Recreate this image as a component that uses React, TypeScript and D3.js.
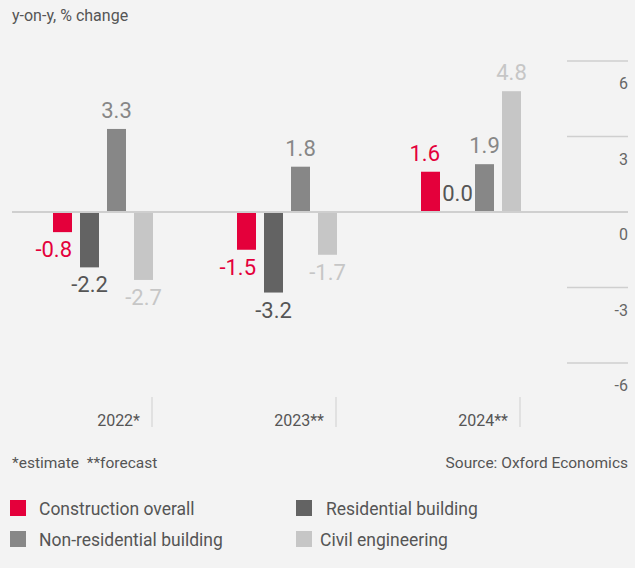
import { useRef, useEffect } from 'react';
import * as d3 from 'd3';

const years = ['2022*', '2023**', '2024**'];
const seriesNames = ['Construction overall', 'Residential building', 'Non-residential building', 'Civil engineering'];
const construction = [-0.8, -1.5, 1.6];
const residential = [-2.2, -3.2, 0.0];
const nonResidential = [3.3, 1.8, 1.9];
const civil = [-2.7, -1.7, 4.8];
const yTicks = [6, 3, 0, -3, -6];

const colors = ['#e4003b', '#636363', '#878787', '#c6c6c6'];
const labelColors = ['#e4003b', '#555555', '#878787', '#c6c6c6'];
const FONT = 'Roboto, sans-serif';

export default function App() {
    const svgRef = useRef<SVGSVGElement>(null);

    useEffect(() => {
        if (!svgRef.current) return;
        const width = 635;
        const height = 568;
        const svg = d3.select(svgRef.current);
        svg.selectAll('*').remove();

        svg.append('rect').attr('width', width).attr('height', height).attr('fill', '#f3f3f3');

        const values = [construction, residential, nonResidential, civil];

        const x0 = d3.scaleBand<string>().domain(years).range([11, 563]);
        const x1 = d3.scaleBand<string>().domain(seriesNames).range([0, 100]).paddingInner(8 / 27).paddingOuter(0);
        const y = d3.scaleLinear().domain([-6, 6]).range([363, 61]);

        // grid lines + right axis labels
        yTicks.filter(t => t !== 0).forEach(t => {
            svg.append('line')
                .attr('x1', 567).attr('x2', 628)
                .attr('y1', y(t)).attr('y2', y(t))
                .attr('stroke', '#cfcfcf').attr('stroke-width', 1.5);
        });
        yTicks.forEach(t => {
            svg.append('text')
                .attr('x', 628).attr('y', y(t) + 28)
                .attr('text-anchor', 'end')
                .attr('fill', '#666').attr('font-size', 16).attr('font-family', FONT)
                .text(String(t));
        });

        // bars
        seriesNames.forEach((s, si) => {
            years.forEach((yr, yi) => {
                const v = values[si][yi];
                const cx = x0(yr)! + x0.bandwidth() / 2 - 50;
                const bx = cx + x1(s)!;
                svg.append('rect')
                    .attr('x', bx)
                    .attr('y', Math.min(y(v), y(0)))
                    .attr('width', x1.bandwidth())
                    .attr('height', Math.abs(y(v) - y(0)))
                    .attr('fill', colors[si]);
                const isRed = si === 0;
                svg.append('text')
                    .attr('x', isRed ? bx + x1.bandwidth() : bx + x1.bandwidth() / 2)
                    .attr('y', v >= 0 ? y(v) - 11 : y(v) + 25)
                    .attr('text-anchor', isRed ? 'end' : 'middle')
                    .attr('fill', labelColors[si])
                    .attr('font-size', 22).attr('font-family', FONT)
                    .text(v.toFixed(1));
            });
        });

        // zero line
        svg.append('line')
            .attr('x1', 12).attr('x2', 628)
            .attr('y1', y(0)).attr('y2', y(0))
            .attr('stroke', '#cfcfcf').attr('stroke-width', 2);

        // category labels and ticks
        years.forEach(yr => {
            const right = x0(yr)! + x0.bandwidth() / 2 + 49;
            svg.append('line')
                .attr('x1', right).attr('x2', right)
                .attr('y1', 397).attr('y2', 427)
                .attr('stroke', '#cfcfcf').attr('stroke-width', 1);
            svg.append('text')
                .attr('x', right - 12).attr('y', 426)
                .attr('text-anchor', 'end')
                .attr('fill', '#555').attr('font-size', 16).attr('font-family', FONT)
                .text(yr);
        });

        // titles and notes
        svg.append('text')
            .attr('x', 12).attr('y', 21)
            .attr('fill', '#555').attr('font-size', 16).attr('font-family', FONT)
            .text('y-on-y, % change');
        svg.append('text')
            .attr('x', 12).attr('y', 468)
            .attr('fill', '#555').attr('font-size', 15.5).attr('font-family', FONT)
            .style('white-space', 'pre')
            .text('*estimate  **forecast');
        svg.append('text')
            .attr('x', 628).attr('y', 468)
            .attr('text-anchor', 'end')
            .attr('fill', '#555').attr('font-size', 15.5).attr('font-family', FONT)
            .text('Source: Oxford Economics');

        // legend
        const legendPos = [
            { x: 10, y: 500, tx: 39 },
            { x: 296, y: 500, tx: 326 },
            { x: 10, y: 531, tx: 39 },
            { x: 296, y: 531, tx: 320 },
        ];
        seriesNames.forEach((s, i) => {
            const p = legendPos[i];
            svg.append('rect')
                .attr('x', p.x).attr('y', p.y)
                .attr('width', 16).attr('height', 16)
                .attr('fill', colors[i]);
            svg.append('text')
                .attr('x', p.tx).attr('y', p.y + 15)
                .attr('fill', '#555').attr('font-size', 17.5).attr('font-family', FONT)
                .text(s);
        });
    }, []);

    return (
        <svg ref={svgRef} width={635} height={568} style={{ position: 'absolute', left: 0, top: 0, display: 'block' }} />
    );
}
